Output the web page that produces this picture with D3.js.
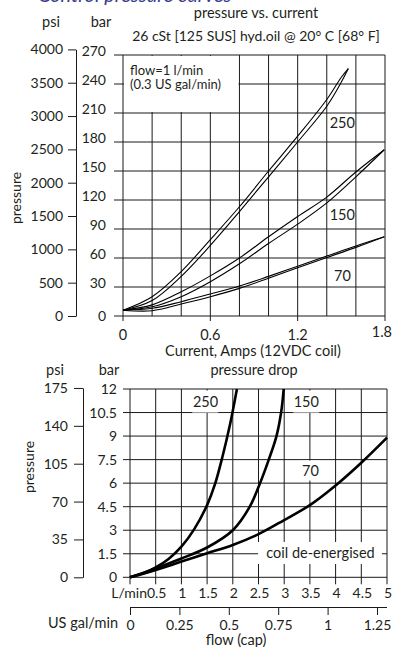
<!DOCTYPE html>
<html>
<head>
<meta charset="utf-8">
<script src="https://cdn.jsdelivr.net/npm/d3@7"></script>
<style>
  body { margin: 0; background: #fff; }
  text { font-family: Lato, "Open Sans", sans-serif; fill: #231f20; }
</style>
</head>
<body>
<script>
// --- pressure vs current (hysteresis loops, up / down branch) ---
var curXTicks = [0, 0.6, 1.2, 1.8];
var curBarTicks = [0, 30, 60, 90, 120, 150, 180, 210, 240, 270];
var curPsiTicks = [0, 500, 1000, 1500, 2000, 2500, 3000, 3500, 4000];

var cur250Up = [[0, 6], [0.2, 20], [0.4, 46], [0.6, 79], [0.8, 113], [1.0, 150], [1.2, 186], [1.4, 224], [1.5, 247], [1.548, 256]];
var cur250Dn = [[0, 6], [0.2, 16], [0.4, 41], [0.6, 73], [0.8, 108], [1.0, 144], [1.2, 180], [1.4, 217], [1.5, 242], [1.548, 256]];
var cur150Up = [[0, 6], [0.2, 11.5], [0.4, 25], [0.6, 41.5], [0.8, 60], [1.0, 82], [1.2, 103], [1.4, 123], [1.6, 149], [1.795, 172]];
var cur150Dn = [[0, 6], [0.2, 9.5], [0.4, 20], [0.6, 35.5], [0.8, 54], [1.0, 75], [1.2, 95], [1.4, 117], [1.6, 144], [1.795, 172]];
var cur70Up = [[0, 6], [0.2, 8], [0.4, 14.8], [0.6, 22.8], [0.8, 31], [1.0, 41], [1.2, 51.5], [1.4, 62], [1.6, 72.5], [1.795, 82]];
var cur70Dn = [[0, 6], [0.2, 5.5], [0.4, 12.4], [0.6, 20], [0.8, 28.6], [1.0, 39], [1.2, 50], [1.4, 60.5], [1.6, 71], [1.795, 82]];

// --- pressure drop ---
var flowLabels = ["L/min", "0.5", "1", "1.5", "2", "2.5", "3", "3.5", "4", "4.5", "5"];
var flowTicks = [0, 0.5, 1, 1.5, 2, 2.5, 3, 3.5, 4, 4.5, 5];
var galTicks = [0, 0.25, 0.5, 0.75, 1, 1.25];
var dropBarTicks = [0, 1.5, 3, 4.5, 6, 7.5, 9, 10.5, 12];
var dropPsiTicks = [0, 35, 70, 105, 140, 175];

var drop250 = [[0, 0], [0.25, 0.25], [0.5, 0.63], [0.75, 1.17], [1.0, 1.95], [1.25, 3.07], [1.5, 4.6], [1.65, 5.9], [1.8, 7.7], [1.95, 9.8], [2.08, 12]];
var drop150 = [[0, 0], [0.5, 0.57], [1.0, 1.2], [1.5, 1.9], [2.0, 3.0], [2.33, 4.5], [2.53, 6], [2.7, 7.5], [2.85, 9], [2.94, 10.5], [2.99, 12]];
var drop70 = [[0, 0], [0.5, 0.47], [1.0, 1.0], [1.5, 1.53], [2.0, 2.06], [2.5, 2.75], [3.0, 3.65], [3.5, 4.6], [4.0, 5.85], [4.5, 7.3], [5.0, 8.9]];

var PSI = 14.5038;

var svg = d3.select("body").append("svg")
    .attr("width", 393)
    .attr("height", 647);

// clipped heading at the very top
svg.append("text")
   .attr("x", 38).attr("y", 1.5)
   .attr("font-size", "20px")
   .attr("font-style", "italic")
   .style("fill", "#3a3d8f")
   .text("Control pressure curves");

// ================= chart 1 =================
var x1 = d3.scaleLinear().domain([0, 1.8]).range([123, 385]);
var y1 = d3.scaleLinear().domain([0, 270]).range([316, 55]);
var p1 = d3.scaleLinear().domain([0, 4000]).range([316, y1(4000 / PSI)]);

var g1 = svg.append("g");

g1.selectAll("line.hg")
  .data(curBarTicks)
  .enter().append("line")
  .attr("x1", x1(0) - 9).attr("x2", x1(1.8))
  .attr("y1", function(d) { return y1(d); })
  .attr("y2", function(d) { return y1(d); })
  .attr("stroke", "#1a1a1a").attr("stroke-width", 1);

g1.selectAll("line.vg")
  .data(d3.range(0, 10).map(function(i) { return i * 0.2; }))
  .enter().append("line")
  .attr("x1", function(d) { return x1(d); })
  .attr("x2", function(d) { return x1(d); })
  .attr("y1", y1(270))
  .attr("y2", function(d, i) { return i % 3 == 0 ? y1(0) + 5 : y1(0); })
  .attr("stroke", "#1a1a1a").attr("stroke-width", 1);

// white box behind the flow note
g1.append("rect")
  .attr("x", x1(0) + 1).attr("y", y1(270) + 1)
  .attr("width", x1(0.8) - x1(0) - 2).attr("height", y1(240) - y1(270))
  .attr("fill", "#fff");
g1.append("rect")
  .attr("x", x1(0) + 1).attr("y", y1(270) + 1)
  .attr("width", x1(0.6) - x1(0) + 1).attr("height", y1(210) - y1(270) - 2)
  .attr("fill", "#fff");

g1.append("text").attr("x", 130).attr("y", 75).attr("font-size", "13px").text("flow=1 l/min");
g1.append("text").attr("x", 130).attr("y", 89).attr("font-size", "13px").text("(0.3 US gal/min)");

// bar axis labels
g1.selectAll("text.bar")
  .data(curBarTicks)
  .enter().append("text")
  .attr("x", 106)
  .attr("y", function(d) { return y1(d) + (d == 0 ? 5 : 1); })
  .attr("text-anchor", "end")
  .attr("font-size", "14px")
  .text(function(d) { return d; });

// psi axis
var psiAxis1 = d3.axisLeft(p1).tickValues(curPsiTicks).tickSize(8).tickSizeOuter(0).tickPadding(5)
    .tickFormat(d3.format("d"));
g1.append("g")
  .attr("transform", "translate(76,0)")
  .call(psiAxis1)
  .call(function(g) {
    g.selectAll("text").attr("font-size", "14px").attr("font-family", null).style("fill", "#231f20");
    g.selectAll("line, path").attr("stroke", "#1a1a1a");
  });

// x labels
g1.selectAll("text.xl")
  .data(curXTicks)
  .enter().append("text")
  .attr("x", function(d) { return d == 1.8 ? 392 : x1(d); })
  .attr("y", function(d) { return d == 1.8 ? 337 : 340; })
  .attr("text-anchor", function(d) { return d == 1.8 ? "end" : "middle"; })
  .attr("font-size", "14.5px")
  .text(function(d) { return d; });

var line1 = d3.line()
    .x(function(d) { return x1(d[0]); })
    .y(function(d) { return y1(d[1]); })
    .curve(d3.curveCatmullRom.alpha(0.5));

g1.selectAll("path.loop")
  .data([cur250Up, cur250Dn, cur150Up, cur150Dn, cur70Up, cur70Dn])
  .enter().append("path")
  .attr("d", line1)
  .attr("fill", "none")
  .attr("stroke", "#000")
  .attr("stroke-width", 1.1);

g1.append("text").attr("x", x1(1.42)).attr("y", y1(200) + 5).attr("font-size", "14.5px").text("250");
g1.append("text").attr("x", x1(1.42)).attr("y", y1(104.5) + 5).attr("font-size", "14.5px").text("150");
g1.append("text").attr("x", x1(1.45)).attr("y", y1(41.5) + 5).attr("font-size", "14.5px").text("70");

// titles
svg.append("text").attr("x", 256).attr("y", 18).attr("text-anchor", "middle").attr("font-size", "14.5px").text("pressure vs. current");
svg.append("text").attr("x", 256).attr("y", 41).attr("text-anchor", "middle").attr("font-size", "14px").text("26 cSt [125 SUS] hyd.oil @ 20° C [68° F]");
svg.append("text").attr("x", 51).attr("y", 27).attr("text-anchor", "middle").attr("font-size", "14.5px").text("psi");
svg.append("text").attr("x", 101).attr("y", 27).attr("text-anchor", "middle").attr("font-size", "14.5px").text("bar");
svg.append("text").attr("transform", "translate(21,198) rotate(-90)").attr("text-anchor", "middle").attr("font-size", "14px").text("pressure");
svg.append("text").attr("x", 253).attr("y", 356).attr("text-anchor", "middle").attr("font-size", "14.5px").text("Current, Amps (12VDC coil)");

// ================= chart 2 =================
var x2 = d3.scaleLinear().domain([0, 5]).range([130, 387]);
var y2 = d3.scaleLinear().domain([0, 12]).range([577.3, 389]);
var p2 = d3.scaleLinear().domain([0, 175]).range([577.3, y2(175 / PSI)]);
var gal = d3.scaleLinear().domain([0, 1.25]).range([130, 377]);

var g2 = svg.append("g");

g2.selectAll("line.hg")
  .data(dropBarTicks)
  .enter().append("line")
  .attr("x1", x2(0) - 7).attr("x2", x2(5))
  .attr("y1", function(d) { return y2(d); })
  .attr("y2", function(d) { return y2(d); })
  .attr("stroke", "#1a1a1a").attr("stroke-width", 1);

g2.selectAll("line.vg")
  .data(flowTicks)
  .enter().append("line")
  .attr("x1", function(d) { return x2(d); })
  .attr("x2", function(d) { return x2(d); })
  .attr("y1", y2(12))
  .attr("y2", y2(0) + 7)
  .attr("stroke", "#1a1a1a").attr("stroke-width", 1);

// label boxes
var boxes = [
  {x: 2.1, y: 1.55, w: 124, h: 22},
  {x: 1.23, y: 11.2, w: 26, h: 22},
  {x: 3.43, y: 11.2, w: 26, h: 22},
  {x: 3.51, y: 6.8, w: 20, h: 20}
];
g2.selectAll("rect.box")
  .data(boxes)
  .enter().append("rect")
  .attr("x", function(d, i) { return i == 0 ? 258 : x2(d.x) - d.w / 2 + (i == 1 ? 12 : 0); })
  .attr("y", function(d) { return y2(d.y) - d.h / 2; })
  .attr("width", function(d) { return d.w; })
  .attr("height", function(d) { return d.h; })
  .attr("fill", "#fff");

var line2 = d3.line()
    .x(function(d) { return x2(d[0]); })
    .y(function(d) { return y2(d[1]); })
    .curve(d3.curveCatmullRom.alpha(0.5));

g2.selectAll("path.drop")
  .data([drop250, drop150, drop70])
  .enter().append("path")
  .attr("d", line2)
  .attr("fill", "none")
  .attr("stroke", "#000")
  .attr("stroke-width", 2.6);

g2.append("text").attr("x", x2(1.47)).attr("y", y2(11.17) + 5).attr("text-anchor", "middle").attr("font-size", "14.5px").text("250");
g2.append("text").attr("x", x2(3.43)).attr("y", y2(11.17) + 5).attr("text-anchor", "middle").attr("font-size", "14.5px").text("150");
g2.append("text").attr("x", x2(3.51)).attr("y", y2(6.77) + 5).attr("text-anchor", "middle").attr("font-size", "14.5px").text("70");
g2.append("text").attr("x", 320.5).attr("y", y2(1.55) + 5).attr("text-anchor", "middle").attr("font-size", "14.5px").text("coil de-energised");

// bar labels
g2.selectAll("text.bar")
  .data(dropBarTicks)
  .enter().append("text")
  .attr("x", 117)
  .attr("y", function(d) { return y2(d) + 5; })
  .attr("text-anchor", "end")
  .attr("font-size", "14px")
  .text(function(d) { return d; });

var psiAxis2 = d3.axisLeft(p2).tickValues(dropPsiTicks).tickSize(9).tickSizeOuter(0).tickPadding(6);
g2.append("g")
  .attr("transform", "translate(83,0)")
  .call(psiAxis2)
  .call(function(g) {
    g.selectAll("text").attr("font-size", "14px").attr("font-family", null).style("fill", "#231f20");
    g.selectAll("line, path").attr("stroke", "#1a1a1a");
  });

// flow labels
g2.selectAll("text.fl")
  .data(flowTicks)
  .enter().append("text")
  .attr("x", function(d, i) { return i == 0 ? 147 : x2(d) + 1; })
  .attr("y", 598)
  .attr("text-anchor", function(d, i) { return i == 0 ? "end" : "middle"; })
  .attr("font-size", "14px")
  .text(function(d, i) { return flowLabels[i]; });

// US gal axis
var galAxis = d3.axisBottom(gal).tickValues(galTicks).tickSize(8).tickSizeOuter(0).tickPadding(5)
    .tickFormat(function(d) { return d; });
g2.append("g")
  .attr("transform", "translate(0,607)")
  .call(galAxis)
  .call(function(g) {
    g.select("path.domain").attr("d", "M" + x2(0) + ",0.5H" + x2(5));
    g.selectAll("text").attr("font-size", "14px").attr("font-family", null).style("fill", "#231f20");
    g.selectAll("line, path").attr("stroke", "#1a1a1a");
  });

svg.append("text").attr("x", 118).attr("y", 628).attr("text-anchor", "end").attr("font-size", "14.5px").text("US gal/min");
svg.append("text").attr("x", 236).attr("y", 645).attr("text-anchor", "middle").attr("font-size", "14.5px").text("flow (cap)");
svg.append("text").attr("x", 254).attr("y", 375).attr("text-anchor", "middle").attr("font-size", "14.5px").text("pressure drop");
svg.append("text").attr("x", 55).attr("y", 375).attr("text-anchor", "middle").attr("font-size", "14.5px").text("psi");
svg.append("text").attr("x", 109).attr("y", 375).attr("text-anchor", "middle").attr("font-size", "14.5px").text("bar");
svg.append("text").attr("transform", "translate(34,467) rotate(-90)").attr("text-anchor", "middle").attr("font-size", "14px").text("pressure");
</script>
</body>
</html>
